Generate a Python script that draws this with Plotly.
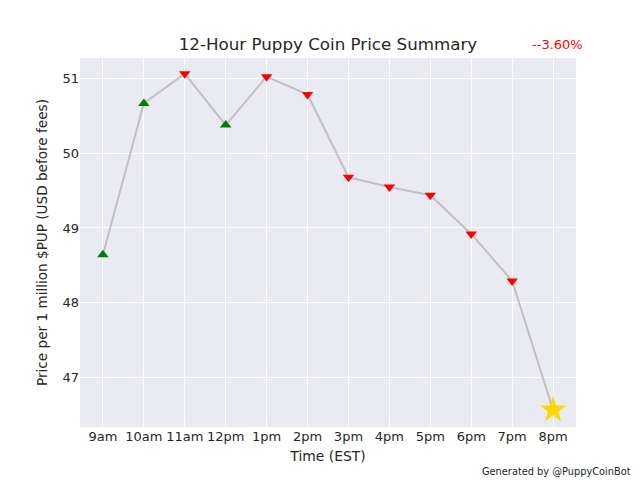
import plotly.graph_objects as go

times = ["9am", "10am", "11am", "12pm", "1pm", "2pm", "3pm", "4pm", "5pm", "6pm", "7pm", "8pm"]
prices = [48.64, 50.67, 51.07, 50.38, 51.03, 50.79, 49.68, 49.55, 49.44, 48.92, 48.29, 46.56]
change_label = "--3.60%"

xs = list(range(len(times)))
fig = go.Figure()
fig.add_trace(go.Scatter(x=xs, y=prices, mode="lines", line=dict(color="#C0C0C0", width=2),
                         showlegend=False, hoverinfo="skip"))
up_x, up_y, dn_x, dn_y = [], [], [], []
for i in range(len(prices) - 1):
    if prices[i + 1] >= prices[i]:
        up_x.append(i); up_y.append(prices[i])
    else:
        dn_x.append(i); dn_y.append(prices[i])
fig.add_trace(go.Scatter(x=up_x, y=up_y, mode="markers",
                         marker=dict(symbol="triangle-up", color="green", size=10), showlegend=False))
fig.add_trace(go.Scatter(x=dn_x, y=dn_y, mode="markers",
                         marker=dict(symbol="triangle-down", color="red", size=10), showlegend=False))
fig.add_trace(go.Scatter(x=[xs[-1]], y=[prices[-1]], mode="markers",
                         marker=dict(symbol="star", color="#FFD700", size=20, line=dict(width=0)), showlegend=False))

fig.update_layout(
    width=640, height=480,
    margin=dict(l=80, r=64, t=58, b=53),
    paper_bgcolor="white", plot_bgcolor="#EAEAF2",
    font=dict(family="DejaVu Sans", color="#262626", size=13),
    title=dict(text="12-Hour Puppy Coin Price Summary", x=(80 + 576) / 2 / 640, xanchor="center",
               y=1 - 44 / 480, yanchor="middle", font=dict(size=16.7, color="#262626")),
    xaxis=dict(range=[-0.56, 11.56], tickmode="array", tickvals=xs, ticktext=times,
               showgrid=True, gridcolor="white", gridwidth=1, zeroline=False, showline=False,
               ticks="", title=dict(text="Time (EST)", font=dict(size=13.9), standoff=8)),
    yaxis=dict(range=[46.33, 51.28], tickvals=[47, 48, 49, 50, 51],
               showgrid=True, gridcolor="white", gridwidth=1, zeroline=False, showline=False,
               ticks="", title=dict(text="Price per 1 million $PUP (USD before fees)", font=dict(size=13.6), standoff=11)),
    annotations=[
        dict(text=change_label, xref="paper", yref="paper", x=(557 - 80) / 496, y=1 + 14 / 369,
             xanchor="center", yanchor="middle", showarrow=False, font=dict(color="red", size=13)),
        dict(text="Generated by @PuppyCoinBot", xref="paper", yref="paper", x=(633 - 80) / 496,
             y=-(471 - 427) / 369, xanchor="right", yanchor="middle", showarrow=False,
             font=dict(size=9.8, color="#262626")),
    ],
)
fig.write_html("out.html")
